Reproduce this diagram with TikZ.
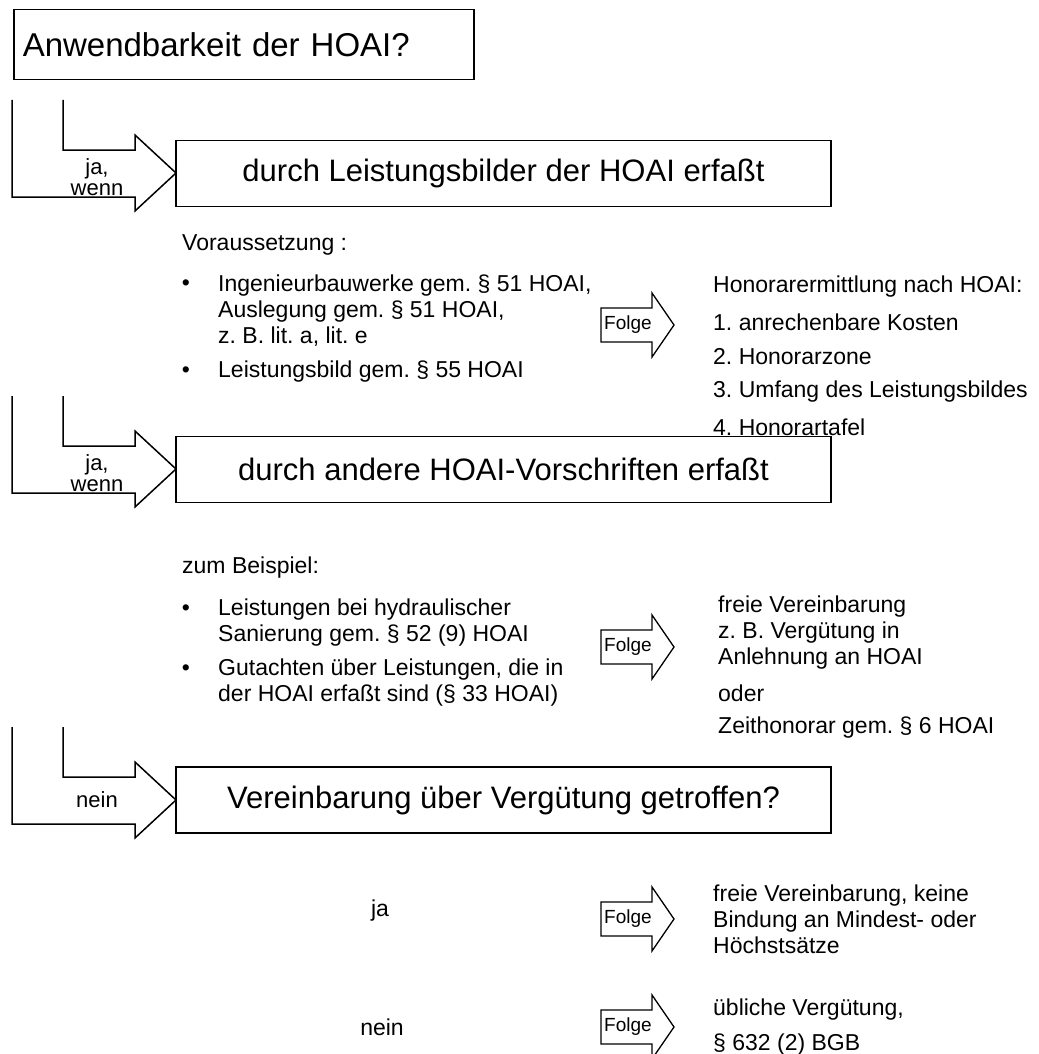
\documentclass[tikz,border=0pt]{standalone}
\usepackage{fontspec}
\setmainfont{Liberation Sans}
\usetikzlibrary{positioning}
\frenchspacing
\tikzset{
kasten/.style={draw,line width=1.5pt,minimum width=655pt,minimum height=66pt,inner sep=0pt,font=\fontsize{31}{34}\selectfont},
txt/.style={anchor=west,align=left,inner sep=0pt,font=\fontsize{23}{26}\selectfont},
punkt/.style={inner sep=0pt,font=\fontsize{23}{26}\selectfont},
marke/.style={align=center,inner sep=0pt,font=\fontsize{22}{21}\selectfont},
folge/.pic={
  \draw[line width=1.3pt] (0,-17) -- (51,-17) -- (51,-32) -- (73,0) -- (51,32) -- (51,17) -- (0,17) -- cycle;
  \node[inner sep=0pt,font=\fontsize{19}{20}\selectfont] (-text) at (27,0) {Folge};},
knick/.pic={
  \draw[line width=1.5pt] (0,0) -- (0,97) -- (123,97) -- (123,111) -- (164,73) -- (123,35) -- (123,50) -- (51,50) -- (51,0);}
}

\begin{document}
\begin{tikzpicture}[x=1pt,y=-1pt]

\useasboundingbox (0,0) rectangle (1038,1054);

\node[draw,line width=1.5pt,anchor=north west,minimum width=460pt,minimum height=70pt,
      text width=442pt,inner xsep=9pt,align=left,font=\fontsize{33}{36}\selectfont] (titel) at (13,9) {Anwendbarkeit der HOAI?};

% ja, wenn: Leistungsbilder
\pic (k1) at (12,100) {knick};
\node[marke] (m1) at (97,177) {ja,\\wenn};
\node[kasten] (b1) at (503.5,173.5) {durch Leistungsbilder der HOAI erfaßt};

\node[txt] (vor) at (182,245) {Voraussetzung :};
\node[punkt] (p11) at (186,285) {•};
\node[txt] (v1) at (218,311) {Ingenieurbauwerke gem. § 51 HOAI,\\Auslegung gem. § 51 HOAI,\\z. B. lit. a, lit. e};
\node[punkt] (p12) at (186,372) {•};
\node[txt] (v2) at (218,372) {Leistungsbild gem. § 55 HOAI};

\pic (f1) at (601,325) {folge};
\node[txt] (h0) at (713,287) {Honorarermittlung nach HOAI:};
\node[txt] (h1) at (713,322) {1. anrechenbare Kosten};
\node[txt] (h2) at (713,357) {2. Honorarzone};
\node[txt] (h3) at (713,392) {3. Umfang des Leistungsbildes};
\node[txt] (h4) at (713,427) {4. Honorartafel};

% ja, wenn: andere Vorschriften
\pic (k2) at (12,396) {knick};
\node[marke] (m2) at (97,473) {ja,\\wenn};
\node[kasten] (b2) at (503.5,469.5) {durch andere HOAI-Vorschriften erfaßt};

\node[txt] (bsp) at (182,568) {zum Beispiel:};
\node[punkt] (p21) at (186,610) {•};
\node[txt] (s1) at (218,622.5) {Leistungen bei hydraulischer\\Sanierung gem. § 52 (9) HOAI};
\node[punkt] (p22) at (186,670) {•};
\node[txt] (s2) at (218,682.5) {Gutachten über Leistungen, die in\\der HOAI erfaßt sind (§ 33 HOAI)};

\pic (f2) at (601,647) {folge};
\node[txt] (r1) at (718,633) {freie Vereinbarung\\z. B. Vergütung in\\Anlehnung an HOAI};
\node[txt] (r2) at (718,693) {oder};
\node[txt] (r3) at (718,728) {Zeithonorar gem. § 6 HOAI};

% nein
\pic (k3) at (12,727) {knick};
\node[marke] (m3) at (97,800) {nein};
\node[kasten] (b3) at (503.5,800) {Vereinbarung über Vergütung getroffen?};

\node[punkt] (ja) at (380,911) {ja};
\pic (f3) at (601,919) {folge};
\node[txt] (e1) at (713,919) {freie Vereinbarung, keine\\Bindung an Mindest- oder\\Höchstsätze};

\node[punkt] (nein) at (382,1027) {nein};
\pic (f4) at (601,1027) {folge};
\node[txt] (e2) at (713,1010) {übliche Vergütung,};
\node[txt] (e3) at (713,1045) {§ 632 (2) BGB};

\end{tikzpicture}
\end{document}
